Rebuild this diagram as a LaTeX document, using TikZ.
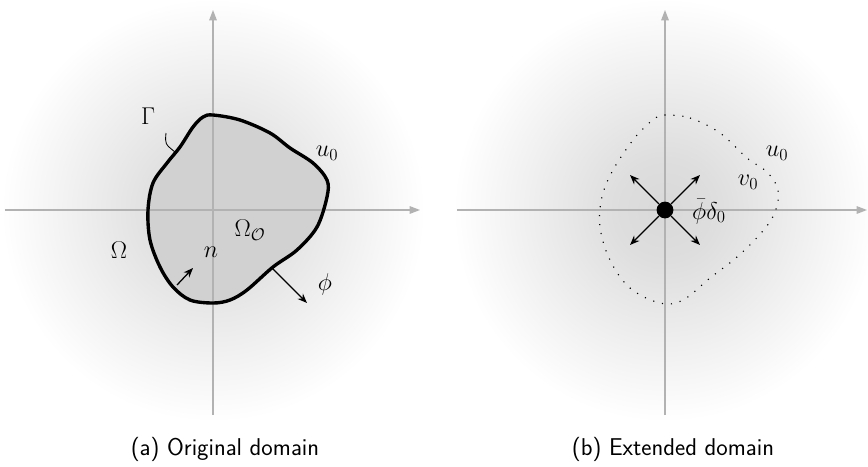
\documentclass[tikz,border=0pt]{standalone}
\usepackage{amsmath}
\usetikzlibrary{arrows.meta}

\colorlet{axisgray}{gray!60}
\colorlet{domaingray}{gray!36}
\pgfdeclareradialshading{domainshade}{\pgfpointorigin}{color(0bp)=(black!15); color(6bp)=(black!13); color(25bp)=(white); color(50bp)=(white)}

\tikzset{
  axisline/.style={draw=axisgray, line width=0.9pt, -{Triangle[length=2.6mm,width=1.9mm]}},
  normalarrow/.style={line width=0.9pt, -{Stealth[length=2.4mm,width=1.9mm]}},
  lbl/.style={font=\LARGE, inner sep=1pt},
  subcap/.style={font=\LARGE\sffamily, anchor=base},
}

% boundary of the obstacle and of the extended source
\newcommand\obstacle{plot[smooth cycle, tension=0.55] coordinates {
  (0,2.375) (0.675,2.25) (1.425,1.925) (1.925,1.55) (2.5,1.175) (2.85,0.75)
  (2.85,0.325) (2.6,-0.425) (2.1,-1.0) (1.5,-1.425) (0.85,-2.0) (0.425,-2.25)
  (0,-2.325) (-0.575,-2.25) (-1.0,-1.925) (-1.325,-1.425) (-1.575,-0.75)
  (-1.625,0) (-1.5,0.675) (-1.15,1.175) (-0.825,1.575) (-0.5,2.075) (-0.25,2.325)}}
\newcommand\extended{plot[smooth cycle, tension=0.6] coordinates {
  (0,2.375) (0.625,2.3) (1.375,1.925) (2.05,1.3) (2.55,0.95) (2.825,0.5)
  (2.75,-0.05) (2.425,-0.55) (1.8,-1.175) (1.125,-1.7) (0.45,-2.25) (-0.125,-2.325)
  (-0.875,-1.95) (-1.375,-1.25) (-1.625,-0.425) (-1.575,0.325) (-1.3,1)
  (-0.8,1.75) (-0.45,2.125) (-0.2,2.325)}}

\begin{document}
\begin{tikzpicture}
\useasboundingbox (-5.325,-6.4) rectangle (16.375,5.25);
\coordinate (O1) at (0,0);
\coordinate (O2) at (11.3,0);

% (a) original domain
\shade[shading=domainshade] (O1) circle (5.3);
\fill[domaingray] \obstacle;
\draw[axisline] (-5.2,0) -- (5.175,0);
\draw[axisline] (0,-5.125) -- (0,5);
\draw[line width=2.4pt] \obstacle;

\coordinate (nfoot) at (-0.9,-1.875);
\coordinate (nhead) at (-0.5,-1.45);
\coordinate (phifoot) at (1.475,-1.45);
\coordinate (phihead) at (2.35,-2.325);
\draw[normalarrow] (nfoot) -- (nhead);
\draw[normalarrow] (phifoot) -- (phihead);
\draw[line width=0.6pt] (-1.175,1.925) .. controls (-1.2,1.65) .. (-0.95,1.45);

\node[lbl] (gammalbl) at (-1.625,2.35) {$\Gamma$};
\node[lbl] (ua) at (2.85,1.425) {$u_0$};
\node[lbl] (omegalbl) at (-2.35,-1.0) {$\Omega$};
\node[lbl] (omegaobs) at (0.925,-0.5) {$\Omega_{\mathcal{O}}$};
\node[lbl] (nlbl) at (-0.05,-1.05) {$n$};
\node[lbl] (philbl) at (2.8,-1.85) {$\phi$};
\node[subcap] (capa) at (0.3,-6.125) {(a) Original domain};

% (b) extended domain
\begin{scope}[shift={(O2)}]
\shade[shading=domainshade] (0,0) circle (5.3);
\draw[axisline] (-5.2,0) -- (5.05,0);
\draw[axisline] (0,-5.125) -- (0,5);
\draw[line width=0.8pt, dash pattern=on 0.8pt off 5.6pt] \extended;
\node[circle, fill, inner sep=0pt, minimum size=0.42cm] (src) at (0,0) {};
\foreach \a in {45,135,225,315}
  \draw[normalarrow] (src.\a) -- ++(\a:1.02);
\node[lbl] (ub) at (2.8,1.425) {$u_0$};
\node[lbl] (vb) at (2.075,0.7) {$v_0$};
\node[lbl] (srclbl) at (1.1,-0.04) {$\bar\phi\delta_0$};
\end{scope}
\node[subcap] (capb) at (11.5,-6.125) {(b) Extended domain};
\end{tikzpicture}
\end{document}
